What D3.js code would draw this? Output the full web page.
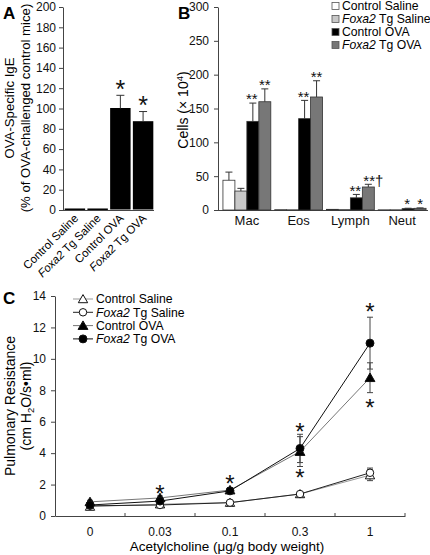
<!DOCTYPE html>
<html><head><meta charset="utf-8">
<script src="https://cdn.jsdelivr.net/npm/d3@7"></script>
<style>body{margin:0;background:#fff} svg{display:block;font-family:"Liberation Sans",Arial,sans-serif}</style>
</head><body><svg id="c" width="430" height="555"></svg>
<script>
// ---------- Panel A data ----------
const groupsA = ["Control Saline", "Foxa2 Tg Saline", "Control OVA", "Foxa2 Tg OVA"];
const igeMean = [1, 1, 100, 87];
const igeErr = [0, 0, 13, 10];
const igeStars = ["", "", "*", "*"];
const igeTicks = [0, 20, 40, 60, 80, 100, 120, 140, 160, 180, 200];

// ---------- Panel B data ----------
const cellTypes = ["Mac", "Eos", "Lymph", "Neut"];
const seriesB = ["Control Saline", "Foxa2 Tg Saline", "Control OVA", "Foxa2 Tg OVA"];
const ctrlSalineCells = [44, 0.5, 1, 0.3];
const foxSalineCells = [28, 0.3, 0.5, 0.3];
const ctrlOvaCells = [131, 135, 18, 2];
const foxOvaCells = [160, 167, 34, 2.5];
const ctrlSalineCellsErr = [12, 0, 0, 0];
const foxSalineCellsErr = [4, 0, 0, 0];
const ctrlOvaCellsErr = [27, 27, 5, 0.6];
const foxOvaCellsErr = [19, 24, 4, 0.6];
const ctrlOvaCellStars = ["**", "**", "**", "*"];
const foxOvaCellStars = ["**", "**", "**\u2020", "*"];
const cellTicks = [0, 50, 100, 150, 200, 250, 300];

// ---------- Panel C data ----------
const doses = ["0", "0.03", "0.1", "0.3", "1"];
const seriesC = ["Control Saline", "Foxa2 Tg Saline", "Control OVA", "Foxa2 Tg OVA"];
const rCtrlSaline = [0.6, 0.75, 0.85, 1.4, 2.6];
const rFoxSaline = [0.65, 0.7, 0.85, 1.4, 2.75];
const rCtrlOva = [0.9, 1.15, 1.65, 4.1, 8.8];
const rFoxOva = [0.7, 0.95, 1.6, 4.3, 11.0];
const rCtrlSalineErr = [0.1, 0.1, 0.08, 0.1, 0.35];
const rFoxSalineErr = [0.1, 0.1, 0.08, 0.1, 0.3];
const rCtrlOvaErr = [0.1, 0.12, 0.12, 0.95, 0.95];
const rFoxOvaErr = [0.08, 0.1, 0.12, 0.9, 1.65];
const starAboveVal = [null, 1.7, 2.35, 5.65, 13.3];
const starBelowVal = [null, null, null, 2.75, 7.2];
const resTicks = [0, 2, 4, 6, 8, 10, 12, 14];

const svg = d3.select("#c");
svg.append("rect").attr("width", 430).attr("height", 555).attr("fill", "#fff");
const AX = "#444";

function labelWithItalic(sel, name) {
  if (name.startsWith("Foxa2")) {
    sel.append("tspan").attr("font-style", "italic").text("Foxa2");
    sel.append("tspan").text(name.slice(5));
  } else sel.text(name);
}
function styleAxis(g) {
  g.selectAll("path").attr("stroke", AX);
  g.selectAll("line").attr("stroke", AX);
  g.selectAll("text").attr("font-size", 12).attr("fill", "#111")
    .attr("font-family", '"Liberation Sans",Arial,sans-serif');
}
function star(g, x, y, size, txt) {
  g.append("text").attr("x", x).attr("y", y + size * 0.55)
    .attr("text-anchor", "middle").attr("font-size", size).attr("fill", "#111").text(txt);
}

// ================= Panel A =================
{
  const g = svg.append("g");
  const y = d3.scaleLinear().domain([0, 200]).range([210, 7]);
  const x = d3.scaleBand().domain(groupsA).range([64, 154]).paddingInner(0.1).paddingOuter(0.03);
  const ay = g.append("g").attr("transform", "translate(63,0)")
    .call(d3.axisLeft(y).tickValues(igeTicks).tickSize(4).tickSizeOuter(0).tickPadding(3));
  styleAxis(ay);
  g.append("line").attr("x1", 63).attr("x2", 154).attr("y1", 210.5).attr("y2", 210.5).attr("stroke", AX);
  groupsA.forEach((k, i) => {
    const bx = x(k), bw = x.bandwidth();
    g.append("rect").attr("x", bx).attr("width", bw).attr("y", y(igeMean[i]) - 0.5)
      .attr("height", Math.max(1.5, y(0) - y(igeMean[i]))).attr("fill", "#000");
    if (igeErr[i] > 0) {
      const cx = bx + bw / 2, yt = y(igeMean[i] + igeErr[i]);
      g.append("line").attr("x1", cx).attr("x2", cx).attr("y1", y(igeMean[i])).attr("y2", yt).attr("stroke", "#333");
      g.append("line").attr("x1", cx - 4).attr("x2", cx + 4).attr("y1", yt).attr("y2", yt).attr("stroke", "#333");
    }
    if (igeStars[i]) star(g, bx + bw / 2, y(igeMean[i] + igeErr[i]) - 11, 25, igeStars[i]);
    const t = g.append("text").attr("font-size", 11.5).attr("text-anchor", "end")
      .attr("transform", `translate(${bx + bw / 2 + 4},${219}) rotate(-45)`);
    labelWithItalic(t, k);
  });
  g.append("text").attr("x", 3).attr("y", 19).attr("font-size", 17).attr("font-weight", "bold").text("A");
  g.append("text").attr("transform", "translate(14,108) rotate(-90)").attr("text-anchor", "middle")
    .attr("font-size", 13.2).text("OVA-Specific IgE");
  g.append("text").attr("transform", "translate(30,108) rotate(-90)").attr("text-anchor", "middle")
    .attr("font-size", 13.2).text("(% of OVA-challenged control mice)");
}

// ================= Panel B =================
{
  const g = svg.append("g");
  const y = d3.scaleLinear().domain([0, 300]).range([210, 7]);
  const x0 = d3.scaleBand().domain(cellTypes).range([221, 428]).paddingInner(0.075).paddingOuter(0.0375);
  const x1 = d3.scaleBand().domain(seriesB).range([0, x0.bandwidth()]);
  const vals = [ctrlSalineCells, foxSalineCells, ctrlOvaCells, foxOvaCells];
  const errs = [ctrlSalineCellsErr, foxSalineCellsErr, ctrlOvaCellsErr, foxOvaCellsErr];
  const fills = ["#ffffff", "#c8c8c8", "#000000", "#777777"];
  const color = d3.scaleOrdinal().domain(seriesB).range(fills);
  const ay = g.append("g").attr("transform", "translate(218,0)")
    .call(d3.axisLeft(y).tickValues(cellTicks).tickSize(4).tickSizeOuter(0).tickPadding(5));
  styleAxis(ay);
  const ax = g.append("g").attr("transform", "translate(0,210.5)")
    .call(d3.axisBottom(x0).tickSize(0).tickPadding(5));
  ax.select("path").remove();
  styleAxis(ax);
  ax.selectAll("text").attr("font-size", 13);
  g.append("line").attr("x1", 218).attr("x2", 428).attr("y1", 210.5).attr("y2", 210.5).attr("stroke", AX);
  cellTypes.forEach((c, ci) => {
    seriesB.forEach((s, si) => {
      const v = vals[si][ci], e = errs[si][ci];
      const bx = x0(c) + x1(s), bw = x1.bandwidth();
      g.append("rect").attr("x", bx).attr("width", bw).attr("y", y(v))
        .attr("height", y(0) - y(v)).attr("fill", color(s)).attr("stroke", "#333").attr("stroke-width", 0.8);
      if (e > 0) {
        const cx = bx + bw / 2, yt = y(v + e);
        g.append("line").attr("x1", cx).attr("x2", cx).attr("y1", y(v)).attr("y2", yt).attr("stroke", "#333");
        g.append("line").attr("x1", cx - 3.5).attr("x2", cx + 3.5).attr("y1", yt).attr("y2", yt).attr("stroke", "#333");
      }
    });
    const sx2 = x0(c) + x1("Control OVA") + x1.bandwidth() / 2;
    const sx3 = x0(c) + x1("Foxa2 Tg OVA") + x1.bandwidth() / 2;
    star(g, sx2 - 1, y(ctrlOvaCells[ci] + ctrlOvaCellsErr[ci]) - 7, 15, ctrlOvaCellStars[ci]);
    const t3 = foxOvaCellStars[ci];
    star(g, sx3 + (t3.length > 2 ? 5 : 0), y(foxOvaCells[ci] + foxOvaCellsErr[ci]) - 7, 15, t3);
  });
  g.append("text").attr("x", 178).attr("y", 19).attr("font-size", 17).attr("font-weight", "bold").text("B");
  const yl = g.append("text").attr("transform", "translate(188,110) rotate(-90)").attr("text-anchor", "middle").attr("font-size", 14);
  yl.append("tspan").text("Cells (\u00d7 10");
  yl.append("tspan").attr("font-size", 9.5).attr("dy", -5).text("4");
  yl.append("tspan").attr("dy", 5).text(")");
  const lg = g.append("g").attr("transform", "translate(332,0)");
  seriesB.forEach((s, i) => {
    const yy = 6 + i * 13;
    lg.append("rect").attr("x", 0).attr("y", yy - 3.5).attr("width", 7).attr("height", 7)
      .attr("fill", color(s)).attr("stroke", "#555").attr("stroke-width", 0.8);
    const t = lg.append("text").attr("x", 10).attr("y", yy + 4.3).attr("font-size", 12.2);
    labelWithItalic(t, s);
  });
}

// ================= Panel C =================
{
  const g = svg.append("g");
  const y = d3.scaleLinear().domain([0, 14]).range([516, 296]);
  const x = d3.scaleBand().domain(doses).range([55, 405]);
  const ay = g.append("g").attr("transform", "translate(55,0)")
    .call(d3.axisLeft(y).tickValues(resTicks).tickSize(4).tickSizeOuter(0).tickPadding(5));
  styleAxis(ay);
  const ax = g.append("g").attr("transform", "translate(0,516)")
    .call(d3.axisBottom(x).tickSize(0).tickPadding(11).tickSizeOuter(0));
  styleAxis(ax);
  ax.selectAll("text").attr("font-size", 12);
  const edges = doses.slice(1).map(d => x(d)).concat([x.range()[1]]);
  g.selectAll(".edge").data(edges).join("line").attr("x1", d => d).attr("x2", d => d)
    .attr("y1", 513).attr("y2", 516).attr("stroke", AX);
  const cx = d => x(d) + x.bandwidth() / 2;
  const vals = [rCtrlSaline, rFoxSaline, rCtrlOva, rFoxOva];
  const errs = [rCtrlSalineErr, rFoxSalineErr, rCtrlOvaErr, rFoxOvaErr];
  const lineCol = ["#999", "#222", "#777", "#111"];
  const sym = [d3.symbolTriangle, d3.symbolCircle, d3.symbolTriangle, d3.symbolCircle];
  const symSize = [38, 44, 42, 50];
  const symFill = ["#fff", "#fff", "#000", "#000"];
  const line = d3.line().x((d, i) => cx(doses[i])).y(d => y(d));
  [0, 1, 2, 3].forEach(si => {
    vals[si].forEach((v, i) => {
      const e = errs[si][i], xx = cx(doses[i]);
      g.append("line").attr("x1", xx).attr("x2", xx).attr("y1", y(v - e)).attr("y2", y(v + e)).attr("stroke", "#444");
      [v - e, v + e].forEach(w => g.append("line").attr("x1", xx - 3).attr("x2", xx + 3)
        .attr("y1", y(w)).attr("y2", y(w)).attr("stroke", "#444"));
    });
  });
  [0, 1, 2, 3].forEach(si => {
    g.append("path").datum(vals[si]).attr("d", line).attr("fill", "none").attr("stroke", lineCol[si]).attr("stroke-width", 1);
  });
  [0, 1, 2, 3].forEach(si => {
    vals[si].forEach((v, i) => {
      g.append("path").attr("d", d3.symbol(sym[si], symSize[si])())
        .attr("transform", `translate(${cx(doses[i])},${y(v) + (sym[si] === d3.symbolTriangle ? 1 : 0)})`)
        .attr("fill", symFill[si]).attr("stroke", "#111").attr("stroke-width", 1);
    });
  });
  doses.forEach((d, i) => {
    if (starAboveVal[i] != null) star(g, cx(d), y(starAboveVal[i]), 24, "*");
    if (starBelowVal[i] != null) star(g, cx(d), y(starBelowVal[i]), 24, "*");
  });
  g.append("text").attr("x", 3).attr("y", 304).attr("font-size", 17).attr("font-weight", "bold").text("C");
  g.append("text").attr("transform", "translate(15,406) rotate(-90)").attr("text-anchor", "middle")
    .attr("font-size", 14).text("Pulmonary Resistance");
  const yl = g.append("text").attr("transform", "translate(31,406) rotate(-90)").attr("text-anchor", "middle").attr("font-size", 14);
  yl.append("tspan").text("(cm H");
  yl.append("tspan").attr("font-size", 9.5).attr("dy", 3).text("2");
  yl.append("tspan").attr("dy", -3).text("O/s\u2022ml)");
  g.append("text").attr("x", 227).attr("y", 551).attr("text-anchor", "middle").attr("font-size", 13.5)
    .text("Acetylcholine (\u03bcg/g body weight)");
  const lg = g.append("g").attr("transform", "translate(73,0)");
  seriesC.forEach((s, i) => {
    const yy = 299 + i * 13.3;
    lg.append("line").attr("x1", 0).attr("x2", 20).attr("y1", yy).attr("y2", yy).attr("stroke", lineCol[i]);
    lg.append("path").attr("d", d3.symbol(sym[i], symSize[i])())
      .attr("transform", `translate(10,${yy + (sym[i] === d3.symbolTriangle ? 1 : 0)})`)
      .attr("fill", symFill[i]).attr("stroke", "#111");
    const t = lg.append("text").attr("x", 23).attr("y", yy + 4.3).attr("font-size", 12.2);
    labelWithItalic(t, s);
  });
}
</script></body></html>
